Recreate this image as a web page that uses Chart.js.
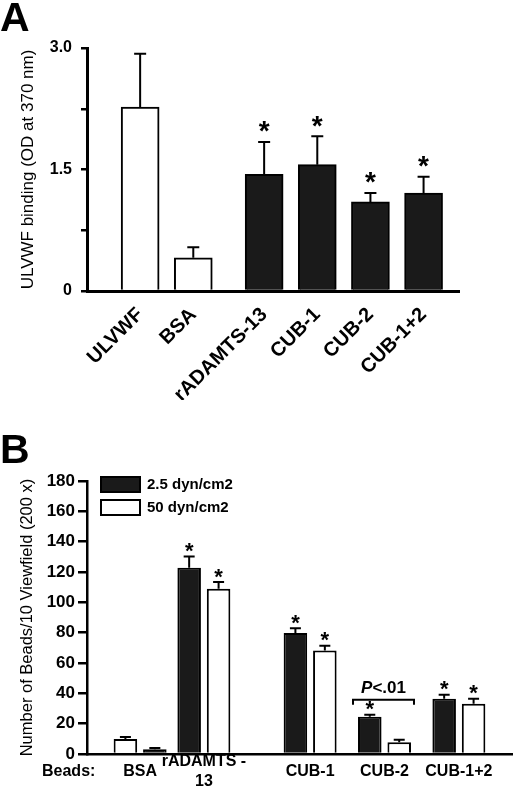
<!DOCTYPE html>
<html>
<head>
<meta charset="utf-8">
<script src="https://cdn.jsdelivr.net/npm/chart.js@4.4.1/dist/chart.umd.min.js"></script>
<style>
  html, body { margin: 0; padding: 0; background: #ffffff; }
  #wrap { position: relative; width: 520px; height: 796px; overflow: hidden; }
  #ca { position: absolute; left: 0; top: 0; }
  #cb { position: absolute; left: 0; top: 400px; }
</style>
</head>
<body>
<div id="wrap">
  <canvas id="ca" width="520" height="400"></canvas>
  <canvas id="cb" width="520" height="396"></canvas>
</div>
<script>
// ---------------- Panel A data ----------------
const categoriesA = ['ULVWF', 'BSA', 'rADAMTS-13', 'CUB-1', 'CUB-2', 'CUB-1+2'];
const bindingA    = [2.27, 0.41, 1.44, 1.56, 1.10, 1.21];
const bindingErrA = [0.66, 0.13, 0.40, 0.35, 0.11, 0.20];
const starsA      = ['', '', '*', '*', '*', '*'];
const yTickValuesA = [0, 0.75, 1.5, 2.25, 3.0];
const yTickLabelsA = ['0', '', '1.5', '', '3.0'];
const yTitleA = 'ULVWF binding (OD at 370 nm)';

// ---------------- Panel B data ----------------
const categoriesB = ['BSA', ['rADAMTS -', '13'], 'CUB-1', 'CUB-2', 'CUB-1+2'];
const seriesB     = ['2.5 dyn/cm2', '50 dyn/cm2'];
const beadsLow     = [9.9, 122.8, 79.8, 24.6, 36.4];
const beadsLowErr  = [1.3, 7.4, 3.1, 1.3, 2.6];
const beadsHigh    = [3.1, 109.0, 68.2, 7.7, 33.1];
const beadsHighErr = [0.8, 4.4, 3.1, 1.7, 3.3];
const starsLow  = ['', '*', '*', '*', '*'];
const starsHigh = ['', '*', '*', '', '*'];
const yTickStepB = 20;
const yMaxB = 180;
const yTitleB = 'Number of Beads/10 Viewfield (200 x)';
const pNoteCategory = 'CUB-2';
const pNoteText = ['P', '<.01'];
const beadsLabel = 'Beads:';

// ---------------- layout / style (not data) ----------------
const FONT = "'Liberation Sans', Arial, Helvetica, sans-serif";
const INK = '#000000';
const DARK = '#1a1a1a';
const WHITE = '#ffffff';
const layoutA = { slots: 22, at: [3, 6, 10, 13, 16, 19] };
const layoutB = { slots: 41, at: [5, 11, 21, 28, 35] };
const fillA = [WHITE, WHITE, DARK, DARK, DARK, DARK];
const fillLow = [WHITE, DARK, DARK, DARK, DARK];
const fillHigh = [DARK, WHITE, WHITE, WHITE, WHITE];
const legendFill = [DARK, WHITE];

function slotted(n, at, arr, blank) {
  const out = new Array(n).fill(blank);
  at.forEach((s, i) => { out[s] = arr[i]; });
  return out;
}

function drawStar(ctx, x, centerY, size) {
  ctx.save();
  ctx.font = 'bold ' + size + 'px ' + FONT;
  ctx.textAlign = 'center';
  ctx.textBaseline = 'alphabetic';
  const m = ctx.measureText('*');
  const base = centerY + (m.actualBoundingBoxAscent - m.actualBoundingBoxDescent) / 2;
  ctx.fillStyle = INK;
  ctx.fillText('*', x, base);
  ctx.restore();
}

// error bars + stars plugin factory
function makeErrorPlugin(sets, cfg) {
  return {
    id: 'errorBars' + Math.random().toString(36).slice(2),
    afterDatasetsDraw(chart) {
      const ctx = chart.ctx;
      const y = chart.scales.y;
      sets.forEach(set => {
        const meta = chart.getDatasetMeta(set.dataset);
        set.at.forEach((slot, i) => {
          const bar = meta.data[slot];
          if (!bar) return;
          const top = y.getPixelForValue(set.values[i] + set.errs[i]);
          ctx.save();
          ctx.strokeStyle = INK;
          ctx.lineWidth = cfg.lineWidth;
          ctx.beginPath();
          ctx.moveTo(bar.x, bar.y);
          ctx.lineTo(bar.x, top);
          ctx.moveTo(bar.x - cfg.cap / 2, top);
          ctx.lineTo(bar.x + cfg.cap / 2, top);
          ctx.stroke();
          ctx.restore();
          if (set.stars[i]) drawStar(ctx, bar.x, top - cfg.starGap, cfg.starSize);
        });
      });
      if (cfg.after) cfg.after(chart);
    }
  };
}

// ---------------- Chart A ----------------
const labelsA = slotted(layoutA.slots, layoutA.at, categoriesA, '');
const chartA = new Chart(document.getElementById('ca'), {
  type: 'bar',
  data: {
    labels: labelsA,
    datasets: [{
      label: yTitleA,
      data: slotted(layoutA.slots, layoutA.at, bindingA, null),
      backgroundColor: slotted(layoutA.slots, layoutA.at, fillA, WHITE),
      borderColor: INK,
      borderWidth: 2,
      borderSkipped: 'start',
      barThickness: 38
    }]
  },
  options: {
    responsive: false,
    animation: false,
    layout: { padding: { left: 0, right: 61, top: 48, bottom: 0 } },
    plugins: { legend: { display: false }, tooltip: { enabled: false } },
    scales: {
      x: {
        offset: false,
        grid: { display: false, drawTicks: false },
        border: { display: true, color: INK, width: 3 },
        ticks: {
          autoSkip: false, maxRotation: 45, minRotation: 45, padding: 6,
          color: INK, font: { family: FONT, size: 20, weight: 'bold', lineHeight: 2.06 }
        },
        afterFit(s) { s.height = 109; }
      },
      y: {
        min: 0, max: 3,
        afterBuildTicks(s) { s.ticks = yTickValuesA.map(v => ({ value: v })); },
        grid: { drawOnChartArea: false, drawTicks: true, tickLength: 6, color: INK, lineWidth: 2.5 },
        border: { display: true, color: INK, width: 3 },
        ticks: {
          padding: 9, color: INK, font: { family: FONT, size: 16, weight: 'bold' },
          callback: (v, i) => yTickLabelsA[i]
        },
        title: {
          display: true, text: yTitleA, color: INK,
          font: { family: FONT, size: 17, weight: 'normal' },
          padding: { top: 18, bottom: 0 }
        },
        afterFit(s) { s.width = 87; }
      }
    }
  },
  plugins: [makeErrorPlugin(
    [{ dataset: 0, at: layoutA.at, values: bindingA, errs: bindingErrA, stars: starsA }],
    {
      lineWidth: 2, cap: 12, starGap: 15, starSize: 28,
      after(chart) {
        const ctx = chart.ctx;
        ctx.save();
        ctx.fillStyle = INK;
        ctx.font = 'bold 41px ' + FONT;
        ctx.textAlign = 'left';
        ctx.textBaseline = 'alphabetic';
        ctx.fillText('A', 0, 31);
        ctx.restore();
      }
    }
  )]
});

// ---------------- Chart B ----------------
const labelsB = slotted(layoutB.slots, layoutB.at, categoriesB, '');
const chartB = new Chart(document.getElementById('cb'), {
  type: 'bar',
  data: {
    labels: labelsB,
    datasets: [{
      label: seriesB[0],
      data: slotted(layoutB.slots, layoutB.at, beadsLow, null),
      backgroundColor: slotted(layoutB.slots, layoutB.at, fillLow, DARK),
      borderColor: INK, borderWidth: 2, borderSkipped: 'start',
      categoryPercentage: 5.54, barPercentage: 0.8
    }, {
      label: seriesB[1],
      data: slotted(layoutB.slots, layoutB.at, beadsHigh, null),
      backgroundColor: slotted(layoutB.slots, layoutB.at, fillHigh, WHITE),
      borderColor: INK, borderWidth: 2, borderSkipped: 'start',
      categoryPercentage: 5.54, barPercentage: 0.8
    }]
  },
  options: {
    responsive: false,
    animation: false,
    layout: { padding: { left: 0, right: 0, top: 81, bottom: 0 } },
    plugins: { legend: { display: false }, tooltip: { enabled: false } },
    scales: {
      x: {
        offset: false,
        grid: { display: false, drawTicks: false },
        border: { display: true, color: INK, width: 2.5 },
        ticks: {
          autoSkip: false, maxRotation: 0, minRotation: 0, padding: 8, crossAlign: 'center',
          color: INK, font: { family: FONT, size: 16, weight: 'bold' }
        },
        afterFit(s) { s.height = 42; }
      },
      y: {
        min: 0, max: yMaxB,
        grid: { drawOnChartArea: false, drawTicks: true, tickLength: 9, color: INK, lineWidth: 2.5 },
        border: { display: true, color: INK, width: 2.5 },
        ticks: {
          stepSize: yTickStepB, padding: 3, color: INK,
          font: { family: FONT, size: 17, weight: 'bold' }
        },
        title: {
          display: true, text: yTitleB, color: INK,
          font: { family: FONT, size: 16.5, weight: 'normal' },
          padding: { top: 18, bottom: 0 }
        },
        afterFit(s) { s.width = 87; }
      }
    }
  },
  plugins: [makeErrorPlugin(
    [
      { dataset: 0, at: layoutB.at, values: beadsLow, errs: beadsLowErr, stars: starsLow },
      { dataset: 1, at: layoutB.at, values: beadsHigh, errs: beadsHighErr, stars: starsHigh }
    ],
    {
      lineWidth: 2, cap: 11, starGap: 9, starSize: 22,
      after(chart) {
        const ctx = chart.ctx;
        const area = chart.chartArea;
        const y = chart.scales.y;
        ctx.save();
        // panel letter
        ctx.fillStyle = INK;
        ctx.font = 'bold 41px ' + FONT;
        ctx.textAlign = 'left';
        ctx.textBaseline = 'alphabetic';
        ctx.fillText('B', 0, 63);
        // legend
        chart.data.datasets.forEach((ds, i) => {
          const bx = area.left + 13, by = area.top - 5 + i * 23;
          ctx.fillStyle = legendFill[i];
          ctx.fillRect(bx, by, 41, 17);
          ctx.strokeStyle = INK; ctx.lineWidth = 2;
          ctx.strokeRect(bx + 1, by + 1, 39, 15);
          ctx.fillStyle = INK;
          ctx.font = 'bold 15px ' + FONT;
          ctx.textBaseline = 'middle';
          ctx.fillText(ds.label, bx + 47, by + 9);
        });
        // "Beads:" row label
        ctx.font = 'bold 16px ' + FONT;
        ctx.textBaseline = 'middle';
        ctx.textAlign = 'left';
        ctx.fillText(beadsLabel, 42, area.bottom + 18);
        // P note bracket
        const ci = categoriesB.indexOf(pNoteCategory);
        const slot = layoutB.at[ci];
        const b0 = chart.getDatasetMeta(0).data[slot];
        const b1 = chart.getDatasetMeta(1).data[slot];
        const t0 = y.getPixelForValue(beadsLow[ci] + beadsLowErr[ci]);
        const t1 = y.getPixelForValue(beadsHigh[ci] + beadsHighErr[ci]);
        const by = Math.min(t0, t1) - 15;
        const x0 = b0.x - b0.width / 2 - 5, x1 = b1.x + b1.width / 2 + 3;
        ctx.strokeStyle = INK; ctx.lineWidth = 2;
        ctx.beginPath();
        ctx.moveTo(x0, by + 5); ctx.lineTo(x0, by); ctx.lineTo(x1, by); ctx.lineTo(x1, by + 5);
        ctx.stroke();
        ctx.font = 'italic bold 17px ' + FONT;
        const wP = ctx.measureText(pNoteText[0]).width;
        ctx.font = 'bold 17px ' + FONT;
        const wR = ctx.measureText(pNoteText[1]).width;
        const cx = (x0 + x1) / 2;
        const sx = cx - (wP + wR) / 2;
        ctx.textBaseline = 'middle';
        ctx.font = 'italic bold 17px ' + FONT;
        ctx.fillText(pNoteText[0], sx, by - 11);
        ctx.font = 'bold 17px ' + FONT;
        ctx.fillText(pNoteText[1], sx + wP, by - 11);
        ctx.restore();
      }
    }
  )]
});
</script>
</body>
</html>
